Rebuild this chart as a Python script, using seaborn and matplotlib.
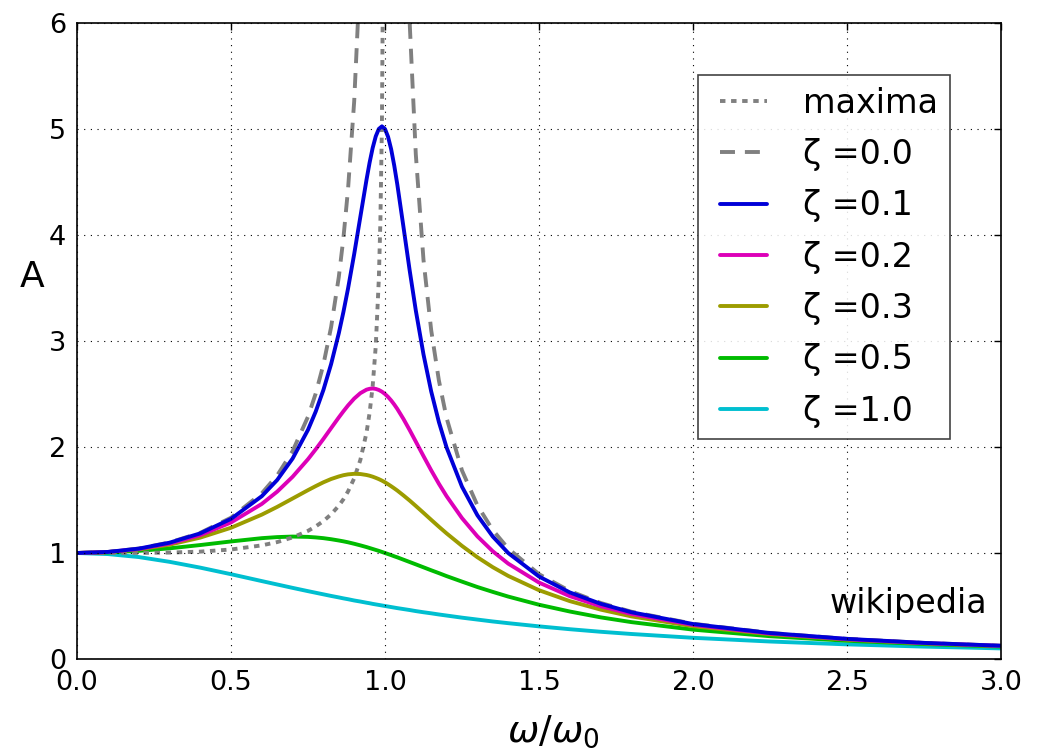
import matplotlib
matplotlib.use("Agg")
import matplotlib.pyplot as plt
import seaborn as sns

# Frequency ratio omega/omega_0 at which the damped responses are tabulated
omega = [0.0, 0.1, 0.2, 0.3, 0.4, 0.5, 0.6, 0.65, 0.7, 0.75, 0.775, 0.8, 0.825,
         0.85, 0.865, 0.88, 0.9, 0.92, 0.94, 0.95, 0.96, 0.97, 0.98, 0.99, 1.0,
         1.01, 1.02, 1.03, 1.04, 1.06, 1.08, 1.1, 1.125, 1.15, 1.175, 1.2, 1.25,
         1.3, 1.35, 1.4, 1.5, 1.6, 1.7, 1.8, 2.0, 2.25, 2.5, 2.75, 3.0]

# Amplitude A for each damping ratio zeta
amp_z01 = [1.000, 1.010, 1.041, 1.097, 1.185, 1.322, 1.536, 1.689, 1.891, 2.162,
           2.334, 2.538, 2.782, 3.073, 3.274, 3.495, 3.821, 4.172, 4.522, 4.683,
           4.822, 4.931, 5.001, 5.025, 5.000, 4.926, 4.809, 4.655, 4.476, 4.075,
           3.668, 3.288, 2.873, 2.524, 2.235, 1.995, 1.625, 1.356, 1.155, 1.000,
           0.778, 0.628, 0.521, 0.441, 0.330, 0.245, 0.190, 0.152, 0.125]
amp_z02 = [1.000, 1.009, 1.038, 1.089, 1.169, 1.288, 1.463, 1.579, 1.719, 1.885,
           1.978, 2.076, 2.178, 2.279, 2.337, 2.392, 2.457, 2.508, 2.541, 2.549,
           2.552, 2.548, 2.538, 2.522, 2.500, 2.472, 2.439, 2.401, 2.359, 2.264,
           2.160, 2.051, 1.914, 1.780, 1.653, 1.536, 1.329, 1.157, 1.016, 0.900,
           0.721, 0.593, 0.498, 0.425, 0.322, 0.240, 0.187, 0.150, 0.124]
amp_z03 = [1.000, 1.008, 1.034, 1.078, 1.145, 1.238, 1.362, 1.435, 1.514, 1.593,
           1.631, 1.667, 1.698, 1.722, 1.734, 1.742, 1.747, 1.745, 1.736, 1.729,
           1.720, 1.709, 1.697, 1.683, 1.667, 1.649, 1.630, 1.610, 1.589, 1.543,
           1.495, 1.444, 1.379, 1.313, 1.248, 1.185, 1.067, 0.960, 0.866, 0.784,
           0.649, 0.546, 0.466, 0.402, 0.309, 0.234, 0.183, 0.148, 0.122]
amp_z05 = [1.000, 1.005, 1.020, 1.044, 1.075, 1.109, 1.140, 1.150, 1.155, 1.152,
           1.147, 1.140, 1.130, 1.118, 1.110, 1.101, 1.087, 1.072, 1.056, 1.047,
           1.038, 1.029, 1.020, 1.010, 1.000, 0.990, 0.980, 0.969, 0.959, 0.937,
           0.915, 0.893, 0.865, 0.837, 0.810, 0.782, 0.730, 0.679, 0.633, 0.589,
           0.512, 0.448, 0.393, 0.348, 0.277, 0.215, 0.172, 0.141, 0.117]
amp_z10 = [1.000, 0.990, 0.962, 0.917, 0.862, 0.800, 0.735, 0.703, 0.671, 0.640,
           0.625, 0.610, 0.595, 0.581, 0.572, 0.564, 0.552, 0.542, 0.531, 0.526,
           0.520, 0.515, 0.510, 0.505, 0.500, 0.495, 0.490, 0.485, 0.480, 0.471,
           0.462, 0.452, 0.441, 0.431, 0.420, 0.410, 0.390, 0.372, 0.354, 0.338,
           0.308, 0.281, 0.257, 0.236, 0.200, 0.165, 0.138, 0.117, 0.100]

# Undamped response, split at the resonance pole
omega_below = [0.0, 0.1, 0.2, 0.3, 0.4, 0.5, 0.6, 0.65, 0.7, 0.75, 0.775, 0.8,
               0.825, 0.85, 0.865, 0.88, 0.9, 0.92, 0.94, 0.95, 0.96, 0.97, 0.98,
               0.99]
amp_z00_below = [1.000, 1.010, 1.042, 1.099, 1.190, 1.333, 1.563, 1.732, 1.961,
                 2.286, 2.504, 2.778, 3.131, 3.604, 3.972, 4.433, 5.263, 6.510,
                 8.591, 10.256, 12.755, 16.920, 25.253, 50.251]
omega_above = [1.01, 1.02, 1.03, 1.04, 1.06, 1.08, 1.1, 1.125, 1.15, 1.175, 1.2,
               1.25, 1.3, 1.35, 1.4, 1.5, 1.6, 1.7, 1.8, 2.0, 2.25, 2.5, 2.75, 3.0]
amp_z00_above = [49.751, 24.752, 16.420, 12.255, 8.091, 6.010, 4.762, 3.765,
                 3.101, 2.627, 2.273, 1.778, 1.449, 1.216, 1.042, 0.800, 0.641,
                 0.529, 0.446, 0.333, 0.246, 0.190, 0.152, 0.125]

# Locus of the resonance peaks
omega_peak = [0.0, 0.1, 0.2, 0.3, 0.4, 0.5, 0.6, 0.65, 0.7, 0.75, 0.775, 0.8,
              0.825, 0.85, 0.865, 0.88, 0.9, 0.92, 0.94, 0.95, 0.96, 0.97, 0.98,
              0.985, 0.99, 0.995]
amp_peak = [1.000, 1.000, 1.001, 1.004, 1.013, 1.033, 1.072, 1.103, 1.147, 1.209,
            1.251, 1.301, 1.365, 1.446, 1.507, 1.581, 1.705, 1.878, 2.136, 2.322,
            2.576, 2.953, 3.589, 4.129, 5.038, 7.098]

# label, amplitudes, colour, stacking order (lighter damping sits on top)
damped = [
    ("ζ =0.1", amp_z01, "#0000d8", 2.40),
    ("ζ =0.2", amp_z02, "#dd00b8", 2.30),
    ("ζ =0.3", amp_z03, "#9c9c00", 2.20),
    ("ζ =0.5", amp_z05, "#00bb00", 2.10),
    ("ζ =1.0", amp_z10, "#00bfd0", 2.00),
]

x_ticks = [0.0, 0.5, 1.0, 1.5, 2.0, 2.5, 3.0]
x_tick_labels = ["0.0", "0.5", "1.0", "1.5", "2.0", "2.5", "3.0"]
y_ticks = [0, 1, 2, 3, 4, 5, 6]

sns.set_theme(style="white")
plt.rcParams["font.family"] = ["DejaVu Sans"]
plt.rcParams["mathtext.fontset"] = "dejavusans"
plt.rcParams["text.color"] = "black"
plt.rcParams["axes.labelcolor"] = "black"

fig, ax = plt.subplots(figsize=(10.46, 7.53), dpi=100)
fig.subplots_adjust(left=77 / 1046, right=1001 / 1046,
                    bottom=1 - 659 / 753, top=1 - 23 / 753)

lw = 2.8
gray = "#808080"
sns.lineplot(x=omega_peak, y=amp_peak, ax=ax, color=gray, lw=lw,
             linestyle=(0, (1.4, 1.45)), errorbar=None, label="maxima",
             zorder=2.15)
sns.lineplot(x=omega_below, y=amp_z00_below, ax=ax, color=gray, lw=lw,
             linestyle=(0, (3.85, 2.55)), errorbar=None, label="ζ =0.0",
             zorder=2.35)
sns.lineplot(x=omega_above, y=amp_z00_above, ax=ax, color=gray, lw=lw,
             linestyle=(0, (3.85, 2.55)), errorbar=None, zorder=2.35)
for name, amp, col, z in damped:
    sns.lineplot(x=omega, y=amp, ax=ax, color=col, lw=lw, errorbar=None,
                 label=name, zorder=z)

ax.set_xlim(0, 3)
ax.set_ylim(0, 6)
ax.set_xticks(x_ticks)
ax.set_xticklabels(x_tick_labels)
ax.set_yticks(y_ticks)
ax.set_yticklabels([str(v) for v in y_ticks])

# dotted grid drawn over the curves
ax.grid(True, color="black", linestyle=(0, (1, 5)), linewidth=0.8)
ax.set_axisbelow(False)
for s in ax.spines.values():
    s.set_visible(True)
    s.set_color("black")
    s.set_linewidth(1.2)
ax.tick_params(direction="in", length=5, width=1, top=True, right=True,
               labelsize=19.5, pad=8, colors="black")

ax.set_ylabel("A", rotation=0, fontsize=26, ha="center", va="center")
ax.yaxis.set_label_coords(-0.049, 0.60)
ax.set_xlabel(r"$\omega/\omega_0$", fontsize=27, va="top")
ax.xaxis.set_label_coords(0.515, -0.086)

ax.text(0.985, 0.072, "wikipedia", transform=ax.transAxes, ha="right",
        va="baseline", fontsize=24)

leg = ax.legend(loc="upper right", bbox_to_anchor=(0.9448, 0.918),
                borderaxespad=0, fontsize=24, frameon=True, fancybox=False,
                edgecolor="#222222", framealpha=0.85, numpoints=2,
                handlelength=2, handletextpad=0.8, borderpad=0.35,
                labelspacing=0.55)
leg.get_frame().set_linewidth(1.2)

fig.savefig("out.png", dpi=100)
